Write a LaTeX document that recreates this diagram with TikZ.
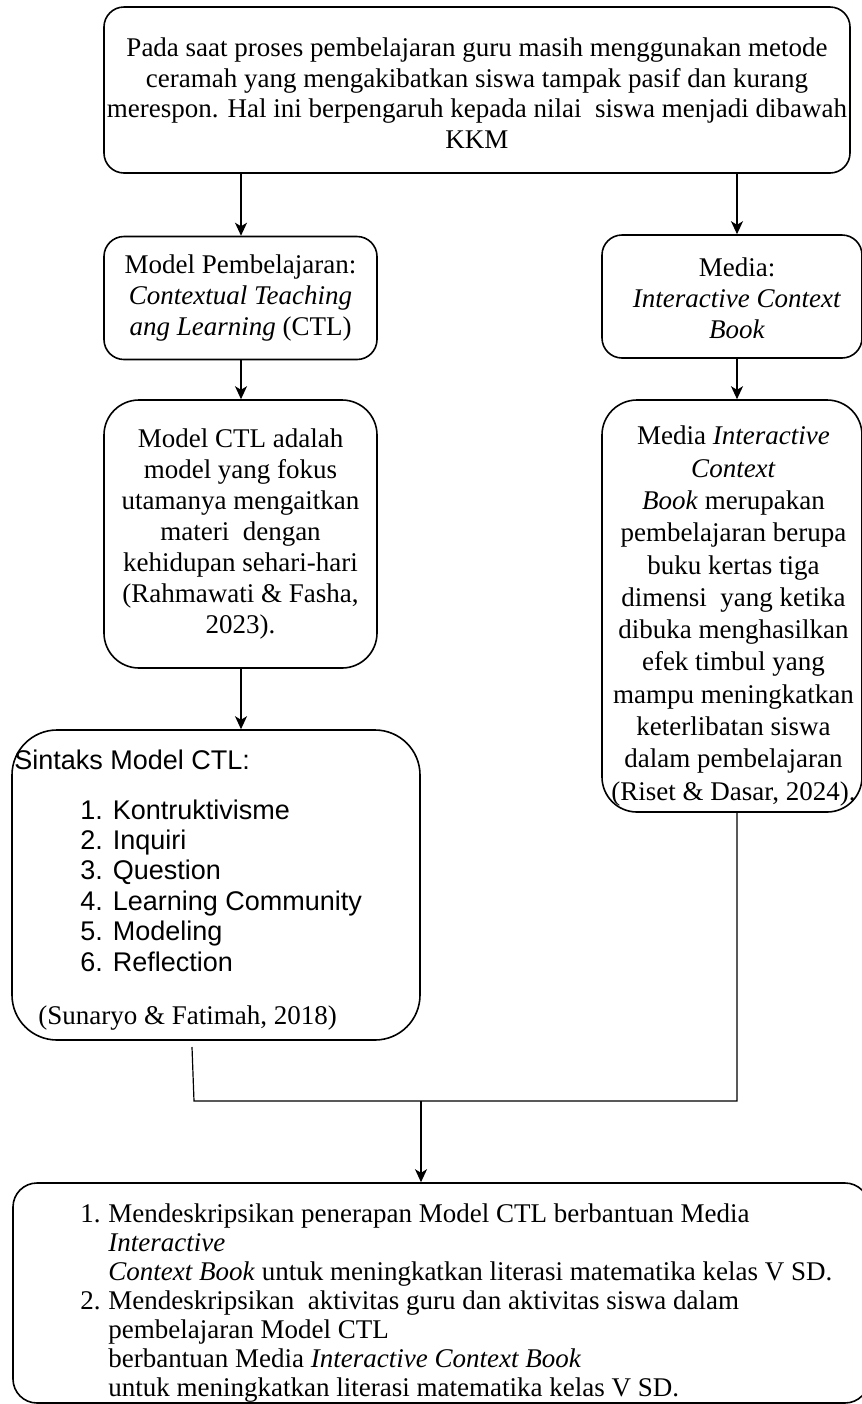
\documentclass[tikz,border=0pt]{standalone}
\usepackage{fontspec}
\setmainfont{Liberation Serif}
\setsansfont{Liberation Sans}
\usetikzlibrary{arrows.meta}
\begin{document}
\begin{tikzpicture}[x=0.5pt,y=-0.5pt,
  box/.style={draw, line width=0.8pt, rectangle, inner sep=0pt, align=center,
    font=\fontsize{13.5}{15.5}\selectfont},
  ctext/.style={inner sep=0pt, align=center},
  arr/.style={line width=0.7pt, -{Stealth[length=6.5pt,width=6pt,inset=1.8pt]}},
  conn/.style={line width=0.6pt},
  sline/.style={anchor=base west, inner sep=0pt, font=\sffamily\fontsize{13.5}{15}\selectfont},
  rline/.style={anchor=base west, inner sep=0pt, font=\fontsize{13.5}{15}\selectfont}]
\useasboundingbox (0,0) rectangle (862,1404);
\clip (0,0) rectangle (862,1404);

% top box
\node[box, rounded corners=10pt, minimum width=373pt, minimum height=83pt] (top) at (477,90) {};
\node[ctext, font=\fontsize{13.5}{15.3}\selectfont] (toptext) at (477,93)
 {Pada saat proses pembelajaran guru masih menggunakan metode\\
  ceramah yang mengakibatkan siswa tampak pasif dan kurang\\
  merespon. Hal ini berpengaruh kepada nilai\ \ siswa menjadi dibawah\\
  KKM};

% second row
\node[box, rounded corners=10pt, minimum width=136.5pt, minimum height=61.5pt] (L2) at (240.5,298)
 {Model Pembelajaran:\\ \textit{Contextual Teaching}\\ \textit{ang Learning} (CTL)};
\node[box, rounded corners=10pt, minimum width=130pt, minimum height=61.5pt] (R2) at (732,296.5) {};
\node[ctext, font=\fontsize{13.5}{15.5}\selectfont] (R2text) at (737,298)
 {Media:\\ \textit{Interactive Context}\\ \textit{Book}};

% third row
\node[box, rounded corners=17.5pt, minimum width=136.5pt, minimum height=134pt] (L3) at (240.5,534)
 {Model CTL adalah\\ model yang fokus\\ utamanya mengaitkan\\ materi\ \ dengan\\
  kehidupan sehari-hari\\ (Rahmawati \& Fasha,\\ 2023).};
\node[box, rounded corners=17.5pt, minimum width=130pt, minimum height=206pt] (R3) at (732,606) {};
\node[ctext, font=\fontsize{13.5}{16.15}\selectfont] (R3text) at (733.5,616)
 {Media \textit{Interactive}\\ \textit{Context}\\ \textit{Book} merupakan\\ pembelajaran berupa\\
  buku kertas tiga\\ dimensi\ \ yang ketika\\ dibuka menghasilkan\\ efek timbul yang\\
  mampu meningkatkan\\ keterlibatan siswa\\ dalam pembelajaran\\ (Riset \& Dasar, 2024).};

% sintaks box
\node[box, rounded corners=22.5pt, minimum width=204pt, minimum height=155pt] (S) at (216,885) {};
\node[sline] (st) at (14,769) {Sintaks Model CTL:};
\node[sline] (s1) at (80,819) {1. Kontruktivisme};
\node[sline] (s2) at (80,849.4) {2. Inquiri};
\node[sline] (s3) at (80,879.8) {3. Question};
\node[sline] (s4) at (80,910.2) {4. Learning Community};
\node[sline] (s5) at (80,940.6) {5. Modeling};
\node[sline] (s6) at (80,971) {6. Reflection};
\node[rline] (sref) at (38,1024) {(Sunaryo \& Fatimah, 2018)};

% bottom box
\node[box, rounded corners=12pt, minimum width=428pt, minimum height=110pt] (B) at (441,1293) {};
\node[rline] (b1n) at (80,1222) {1.};
\node[rline] (b1a) at (108,1222) {Mendeskripsikan penerapan Model CTL berbantuan Media};
\node[rline] (b1b) at (108,1251) {\textit{Interactive}};
\node[rline] (b1c) at (108,1280) {\textit{Context Book} untuk meningkatkan literasi matematika kelas V SD.};
\node[rline] (b2n) at (80,1309) {2.};
\node[rline] (b2a) at (108,1309) {Mendeskripsikan\ \ aktivitas guru dan aktivitas siswa dalam};
\node[rline] (b2b) at (108,1338) {pembelajaran Model CTL};
\node[rline] (b2c) at (108,1367) {berbantuan Media \textit{Interactive Context Book}};
\node[rline] (b2d) at (108,1396) {untuk meningkatkan literasi matematika kelas V SD.};

% connectors
\draw[arr] (top.south -| 241,0) -- (L2.north -| 241,0);
\draw[arr] (top.south -| 737,0) -- (R2.north -| 737,0);
\draw[arr] (L2.south -| 241,0) -- (L3.north -| 241,0);
\draw[arr] (R2.south -| 737,0) -- (R3.north -| 737,0);
\draw[arr] (L3.south -| 241,0) -- (S.north -| 241,0);

\coordinate (ca) at (192,1047);
\coordinate (cb) at (194,1101);
\coordinate (cc) at (737,1101);
\coordinate (cm) at (421,1101);
\draw[conn] (ca) -- (cb) -- (cc) -- (R3.south -| cc);
\draw[arr] (cm) -- (B.north -| cm);
\end{tikzpicture}
\end{document}
